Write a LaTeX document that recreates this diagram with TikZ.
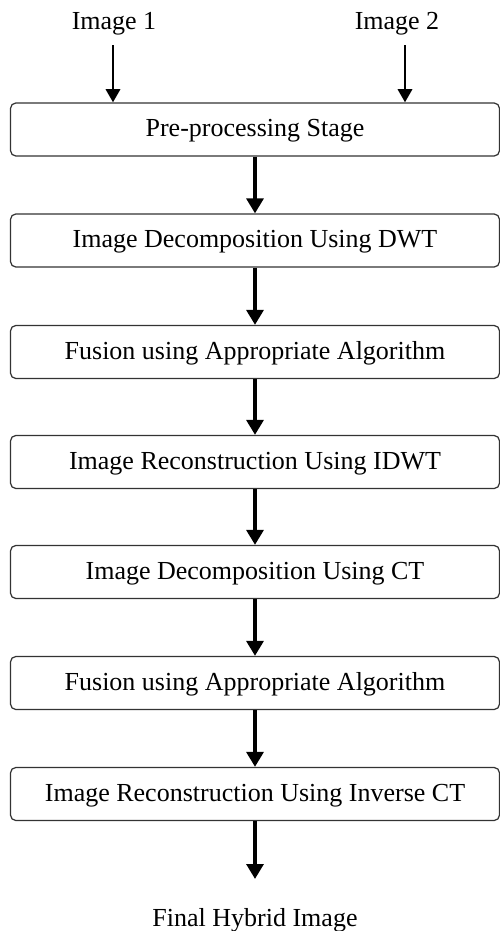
\documentclass[tikz,border=0pt]{standalone}
\usepackage{fontspec}
\setmainfont{Liberation Serif}
\usetikzlibrary{arrows.meta}

\tikzset{
  stage/.style={draw=black!80, line width=0.7pt, rounded corners=3pt,
    minimum width=9.78cm, minimum height=1.06cm, inner sep=0pt,
    text height=1.05em, text depth=0.25em},
  flow/.style={line width=2.2pt, -{Triangle[width=9.5pt,length=8.5pt]}},
  feed/.style={line width=1.7pt, -{Triangle[width=8pt,length=7.5pt]}}
}

\begin{document}
\begin{tikzpicture}[x=0.02cm, y=-0.02cm, font=\fontsize{14.8}{17}\selectfont]
  \useasboundingbox (0,0) rectangle (500,931);
  \node (img1) at (114,24) {Image 1};
  \node (img2) at (397,24) {Image 2};
  \node[stage] (pre) at (255,129.5) {Pre-processing Stage};
  \node[stage] (dwt) at (255,240.5) {Image Decomposition Using DWT};
  \node[stage] (fus1) at (255,352) {Fusion using Appropriate Algorithm};
  \node[stage] (idwt) at (255,462) {Image Reconstruction Using IDWT};
  \node[stage] (ct) at (255,572) {Image Decomposition Using CT};
  \node[stage] (fus2) at (255,683) {Fusion using Appropriate Algorithm};
  \node[stage] (ict) at (255,794) {Image Reconstruction Using Inverse CT};
  \node (final) at (255,920) {Final Hybrid Image};
  \coordinate (in1) at (113,45);
  \coordinate (in2) at (405,45);
  \coordinate (out) at (255,879);
  % inputs
  \draw[feed] (in1) -- (in1 |- pre.north);
  \draw[feed] (in2) -- (in2 |- pre.north);
  % stages
  \draw[flow] (pre) -- (dwt);
  \draw[flow] (dwt) -- (fus1);
  \draw[flow] (fus1) -- (idwt);
  \draw[flow] (idwt) -- (ct);
  \draw[flow] (ct) -- (fus2);
  \draw[flow] (fus2) -- (ict);
  \draw[flow] (ict) -- (out);
\end{tikzpicture}
\end{document}
